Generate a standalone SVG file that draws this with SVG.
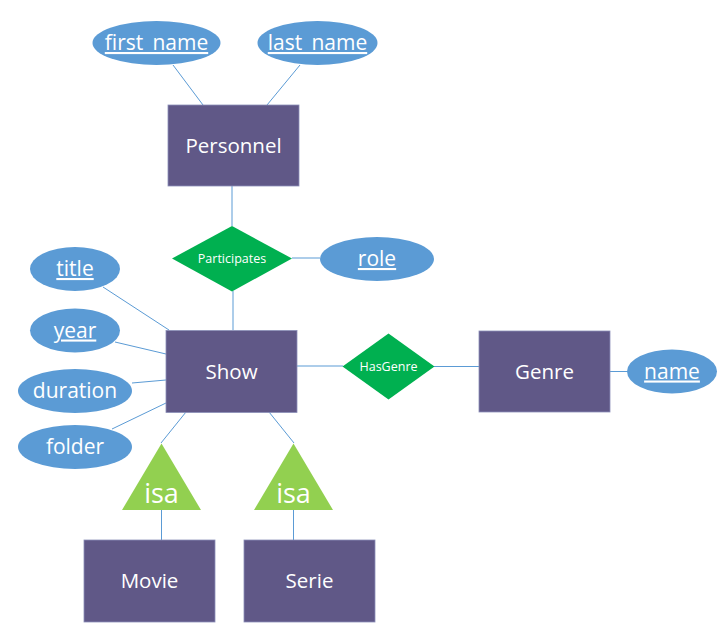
<svg xmlns="http://www.w3.org/2000/svg" width="728" height="643" viewBox="0 0 728 643">
<style>
.ent{fill:#605887;stroke:#8c8fb8;stroke-width:0.8}
.att{fill:#5b9bd5}
.rel{fill:#00b050}
.isa{fill:#92d050}
.ln{stroke:#5b9bd5;stroke-width:1;fill:none}
text{font-family:"Open Sans","Noto Sans","DejaVu Sans",sans-serif;fill:#ffffff;text-anchor:middle}
.et{font-size:20.5px}
.at{font-size:21px}
.u{text-decoration:underline}
.rt{font-size:12.5px}
.it{font-size:27px}
</style>
<rect width="728" height="643" fill="#ffffff"/>
<g id="connectors">
<line class="ln" x1="173" y1="65" x2="203" y2="105"/>
<line class="ln" x1="300" y1="65" x2="267" y2="105"/>
<line class="ln" x1="232" y1="186" x2="232" y2="226"/>
<line class="ln" x1="292" y1="258" x2="320" y2="258"/>
<line class="ln" x1="233" y1="291" x2="233" y2="330"/>
<line class="ln" x1="103" y1="287" x2="169" y2="330"/>
<line class="ln" x1="115" y1="342" x2="166" y2="354"/>
<line class="ln" x1="132" y1="383" x2="166" y2="380"/>
<line class="ln" x1="112" y1="429" x2="166" y2="403"/>
<line class="ln" x1="297" y1="366" x2="343" y2="366"/>
<line class="ln" x1="434" y1="366.5" x2="479" y2="366.5"/>
<line class="ln" x1="610" y1="371.5" x2="628" y2="371.5"/>
<line class="ln" x1="186" y1="412" x2="161" y2="443"/>
<line class="ln" x1="269" y1="412" x2="294" y2="443"/>
<line class="ln" x1="161.5" y1="510" x2="161.5" y2="540"/>
<line class="ln" x1="293.5" y1="510" x2="293.5" y2="540"/>
</g>
<g id="first_name"><ellipse class="att" cx="156.5" cy="43" rx="64" ry="22"/><text class="at u" x="156.5" y="50">first_name</text></g>
<g id="last_name"><ellipse class="att" cx="317.5" cy="43" rx="60" ry="22"/><text class="at u" x="317.5" y="50">last_name</text></g>
<g id="Personnel"><rect class="ent" x="168" y="105" width="131" height="81"/><text class="et" x="233.5" y="153">Personnel</text></g>
<g id="Participates"><polygon class="rel" points="232,226 292,258.5 232,291.5 172,258.5"/><text class="rt" x="232" y="263">Participates</text></g>
<g id="role"><ellipse class="att" cx="377" cy="259" rx="57" ry="22"/><text class="at u" x="377" y="266">role</text></g>
<g id="title"><ellipse class="att" cx="75" cy="269" rx="45" ry="22"/><text class="at u" x="75" y="276">title</text></g>
<g id="year"><ellipse class="att" cx="75" cy="330.5" rx="45" ry="22"/><text class="at u" x="75" y="337.5">year</text></g>
<g id="duration"><ellipse class="att" cx="75" cy="391" rx="57" ry="22"/><text class="at" x="75" y="398">duration</text></g>
<g id="folder"><ellipse class="att" cx="75" cy="447" rx="57" ry="22"/><text class="at" x="75" y="454">folder</text></g>
<g id="Show"><rect class="ent" x="166" y="330.5" width="131" height="82"/><text class="et" x="231.5" y="379">Show</text></g>
<g id="HasGenre"><polygon class="rel" points="388.5,333.5 434.5,366.5 388.5,399.5 342.5,366.5"/><text class="rt" x="388.5" y="371">HasGenre</text></g>
<g id="Genre"><rect class="ent" x="479" y="331" width="131" height="81"/><text class="et" x="544.5" y="379">Genre</text></g>
<g id="name"><ellipse class="att" cx="672" cy="371.5" rx="45" ry="22"/><text class="at u" x="672" y="378.5">name</text></g>
<g id="isa1"><polygon class="isa" points="161.5,443.5 201,510 122,510"/><text class="it" x="161.5" y="503">isa</text></g>
<g id="isa2"><polygon class="isa" points="293.5,443.5 333,510 254,510"/><text class="it" x="293.5" y="503">isa</text></g>
<g id="Movie"><rect class="ent" x="84" y="540" width="131" height="82"/><text class="et" x="149.5" y="588">Movie</text></g>
<g id="Serie"><rect class="ent" x="244" y="540" width="131" height="82"/><text class="et" x="309.5" y="588">Serie</text></g>
</svg>
